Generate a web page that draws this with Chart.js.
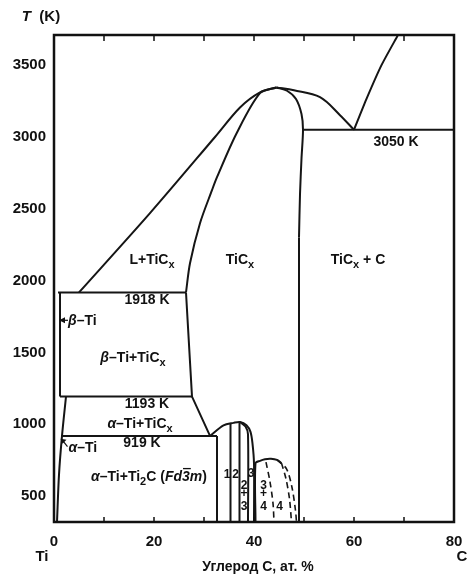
<!DOCTYPE html>
<html>
<head>
<meta charset="utf-8">
<script src="https://cdn.jsdelivr.net/npm/chart.js@4.4.0/dist/chart.umd.min.js"></script>
<style>
  html, body { margin: 0; background: #fff; }
</style>
</head>
<body>
<canvas id="c" width="468" height="576"></canvas>
<script>
// Ti - C phase diagram, x = at.% C, y = T (K)
const xTicks = [0, 10, 20, 30, 40, 50, 60, 70, 80];
const yTicks = [500, 1000, 1500, 2000, 2500, 3000, 3500];

const liquidusLeft  = [[5,1918],[19.2,2470],[32.2,3000],[37.2,3205],[41.2,3310],[44.5,3345]];
const liquidusRight = [[44.5,3345],[48,3325],[53.2,3277],[57.2,3152],[60,3050]];
const graphiteLiq   = [[60,3050],[62.5,3265],[65.5,3500],[68.8,3710]];
const solidusUpper  = [[26.4,1918],[27.2,2121],[29.2,2400],[31.6,2630],[32.6,2720],[36.5,3024],[41.2,3305],[44.5,3345]];
const solidusRight  = [[44.5,3345],[46.6,3322],[48.4,3265],[49.5,3160],[49.8,3050],[49.5,2850],[49.2,2600],[49,2300]];
const tiCxRightLow  = [[49,2300],[49,320]];
const tiCxLeftMid   = [[26.4,1918],[27.6,1193],[31.2,919]];
const eutectic3050  = [[49.8,3050],[80,3050]];
const line1918      = [[0.8,1918],[26.4,1918]];
const betaSolvus    = [[1.2,1918],[1.2,1193]];
const line1193      = [[1.2,1193],[27.6,1193]];
const alphaSolvus   = [[2.4,1193],[1.6,919],[1.0,650],[0.6,320]];
const line919       = [[1.6,919],[32.6,919]];
const ti2cLeft      = [[32.6,919],[32.6,320]];
const dome1         = [[31.2,919],[33.9,993],[35.9,1010],[37.2,1016],[38.5,993],[39.3,947],[39.7,866],[40,727],[40,320]];
const dome1Inner    = [[37.2,1016],[38.3,985],[38.8,930],[38.8,320]];
const dome1V1       = [[35.3,1005],[35.3,320]];
const dome1V2       = [[37.1,1016],[37.1,320]];
const dome2         = [[40.3,320],[40.3,729],[41.2,746],[42.2,757],[43.4,760],[44.6,752],[45.5,730]];
const dome2DashA    = [[42.4,737],[43.2,600],[43.8,450],[44,320]];
const dome2DashB    = [[45.5,730],[46.4,620],[47.1,480],[47.5,320]];
const dome2DashC    = [[44.6,752],[46.5,690],[47.6,560],[48.3,400],[48.5,320]];

const curves = [
  [liquidusLeft, 0.3], [liquidusRight, 0.35], [graphiteLiq, 0.2], [solidusUpper, 0.3],
  [solidusRight, 0.3], [tiCxRightLow, 0], [tiCxLeftMid, 0], [eutectic3050, 0],
  [line1918, 0], [betaSolvus, 0], [line1193, 0], [alphaSolvus, 0.3], [line919, 0],
  [ti2cLeft, 0], [dome1, 0.3], [dome1Inner, 0.3], [dome1V1, 0], [dome1V2, 0], [dome2, 0.3]
];
const dashed = [dome2DashA, dome2DashB, dome2DashC];

const toXY = a => a.map(p => ({x: p[0], y: p[1]}));
const datasets = curves.map(c => ({
  data: toXY(c[0]), showLine: true, pointRadius: 0, borderWidth: 2,
  borderColor: '#151515', tension: c[1]
})).concat(dashed.map(d => ({
  data: toXY(d), showLine: true, pointRadius: 0, borderWidth: 1.6,
  borderColor: '#151515', tension: 0.3, borderDash: [6, 4]
})));

const FAM = '"Liberation Sans", Arial, sans-serif';

// text with italic / subscript / overline pieces
function rich(ctx, x, y, parts, size, align) {
  const items = parts.map(p => {
    const st = p[1] || '';
    const sz = st.includes('s') ? Math.round(size * 0.8) : size;
    return {t: p[0], st: st, f: (st.includes('i') ? 'italic ' : '') + 'bold ' + sz + 'px ' + FAM};
  });
  let w = 0;
  items.forEach(o => { ctx.font = o.f; o.w = ctx.measureText(o.t).width; w += o.w; });
  let cx = align === 'left' ? x : (align === 'right' ? x - w : x - w / 2);
  ctx.textAlign = 'left';
  ctx.textBaseline = 'middle';
  items.forEach(o => {
    ctx.font = o.f;
    const dy = o.st.includes('s') ? size * 0.35 : 0;
    ctx.fillText(o.t, cx, y + dy);
    if (o.st.includes('o')) ctx.fillRect(cx + 1, y - size * 0.68, o.w, 1.3);
    cx += o.w;
  });
}

const labels = [
  {x: 19.6, y: 2145, p: [['L+TiC'], ['x', 's']]},
  {x: 37.2, y: 2145, p: [['TiC'], ['x', 's']]},
  {x: 60.8, y: 2145, p: [['TiC'], ['x', 's'], [' + C']]},
  {x: 68.4, y: 2964, p: [['3050 K']]},
  {x: 18.6, y: 1864, p: [['1918 K']]},
  {x: 15.8, y: 1460, p: [['β', 'i'], ['–Ti+TiC'], ['x', 's']]},
  {x: 18.6, y: 1140, p: [['1193 K']]},
  {x: 17.2, y: 1000, p: [['α', 'i'], ['–Ti+TiC'], ['x', 's']]},
  {x: 17.6, y: 868, p: [['919 K']]},
  {x: 19, y: 630, p: [['α', 'i'], ['–Ti+Ti'], ['2', 's'], ['C ('], ['Fd', 'i'], ['3', 'io'], ['m', 'i'], [')']]}
];
const smallLabels = [
  ['1', 34.6, 652], ['2', 36.3, 652], ['3', 39.4, 655],
  ['2', 38.0, 576], ['+', 38.0, 515], ['3', 38.0, 429],
  ['3', 41.9, 576], ['+', 41.9, 515], ['4', 41.9, 429],
  ['4', 45.1, 429]
];

const decor = {
  id: 'decor',
  beforeDraw(chart) {
    const c = chart.ctx;
    c.save(); c.fillStyle = '#fff'; c.fillRect(0, 0, chart.width, chart.height); c.restore();
  },
  afterDatasetsDraw(chart) {
    const c = chart.ctx, a = chart.chartArea;
    const xs = chart.scales.x, ys = chart.scales.y;
    c.save();
    c.strokeStyle = '#111';
    c.fillStyle = '#111';
    // frame
    c.lineWidth = 2.5;
    c.strokeRect(a.left, a.top, a.right - a.left, a.bottom - a.top);
    // inward ticks top and bottom
    c.lineWidth = 1.5;
    xTicks.forEach(v => {
      if (v === 0 || v === 80) return;
      const px = xs.getPixelForValue(v);
      c.beginPath();
      c.moveTo(px, a.top); c.lineTo(px, a.top + 6);
      c.moveTo(px, a.bottom); c.lineTo(px, a.bottom - 5);
      c.stroke();
    });
    // region labels
    labels.forEach(l => rich(c, xs.getPixelForValue(l.x), ys.getPixelForValue(l.y), l.p, 14, 'center'));
    smallLabels.forEach(l => rich(c, xs.getPixelForValue(l[1]), ys.getPixelForValue(l[2]), [[l[0]]], 12, 'center'));
    // beta-Ti pointer
    let bx = xs.getPixelForValue(1.0), by = ys.getPixelForValue(1724);
    c.beginPath(); c.moveTo(bx, by); c.lineTo(bx + 6, by - 3); c.lineTo(bx + 6, by + 3); c.closePath(); c.fill();
    c.lineWidth = 1.2;
    c.beginPath(); c.moveTo(bx + 5, by); c.lineTo(bx + 9, by); c.stroke();
    rich(c, bx + 9, by + 1, [['β', 'i'], ['–Ti']], 14, 'left');
    // alpha-Ti pointer
    let ax = xs.getPixelForValue(1.3), ay = ys.getPixelForValue(900);
    c.beginPath(); c.moveTo(ax, ay); c.lineTo(ax + 6, ay + 1); c.lineTo(ax + 2, ay + 5); c.closePath(); c.fill();
    c.beginPath(); c.moveTo(ax + 3, ay + 3); c.lineTo(ax + 7, ay + 8); c.stroke();
    rich(c, xs.getPixelForValue(2.9), ys.getPixelForValue(835), [['α', 'i'], ['–Ti']], 14, 'left');
    // axis texts
    rich(c, a.left - 13, 17, [['T', 'i'], ['  (K)']], 15, 'center');
    rich(c, xs.getPixelForValue(0) - 12, 557, [['Ti']], 15, 'center');
    rich(c, xs.getPixelForValue(80) + 8, 557, [['C']], 15, 'center');
    rich(c, 258, 567, [['Углерод С, ат. %']], 14, 'center');
    c.restore();
  }
};

new Chart(document.getElementById('c'), {
  type: 'scatter',
  data: {datasets: datasets},
  plugins: [decor],
  options: {
    responsive: false,
    animation: false,
    devicePixelRatio: 1,
    layout: {padding: {top: 35, right: 14, left: 0, bottom: 0}},
    plugins: {legend: {display: false}, tooltip: {enabled: false}},
    scales: {
      x: {
        type: 'linear', min: 0, max: 80,
        afterBuildTicks: s => { s.ticks = xTicks.map(v => ({value: v})); },
        afterFit: s => { s.height = 54; s.paddingLeft = 0; s.paddingRight = 0; },
        grid: {display: false, drawTicks: false},
        border: {display: false},
        ticks: {
          autoSkip: false, maxRotation: 0, padding: 11, color: '#111',
          font: {family: FAM, size: 15, weight: 'bold'},
          callback: v => (v % 20 === 0 ? String(v) : '')
        }
      },
      y: {
        type: 'linear', min: 320, max: 3710,
        afterBuildTicks: s => { s.ticks = yTicks.map(v => ({value: v})); },
        afterFit: s => { s.width = 54; s.paddingTop = 0; s.paddingBottom = 0; },
        grid: {display: false, drawTicks: false},
        border: {display: false},
        ticks: {
          padding: 8, color: '#111',
          font: {family: FAM, size: 15, weight: 'bold'},
          callback: v => String(v)
        }
      }
    }
  }
});
</script>
</body>
</html>
